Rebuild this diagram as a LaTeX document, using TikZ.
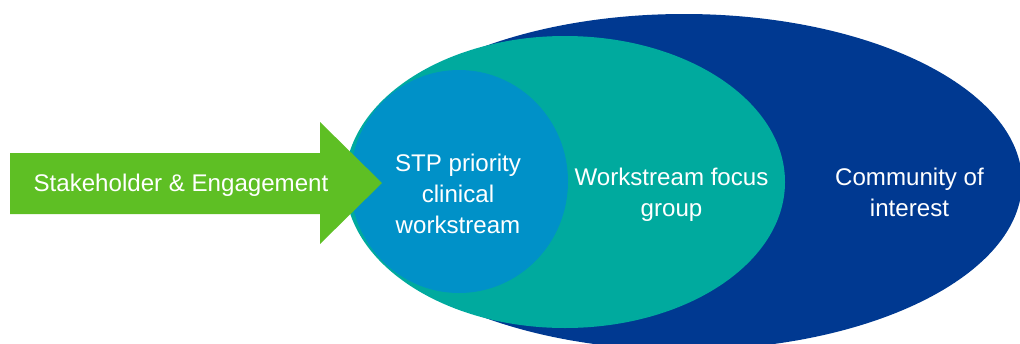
\documentclass[tikz,border=0pt]{standalone}
\usepackage{fontspec}
\setmainfont{Liberation Sans}
\definecolor{arrowgreen}{RGB}{94,191,36}
\definecolor{circblue}{RGB}{0,145,200}
\definecolor{tealc}{RGB}{0,170,158}
\definecolor{darkb}{RGB}{0,57,145}
\begin{document}
\begin{tikzpicture}[x=1pt,y=-1pt,
  lbl/.style={text=white,align=center,inner sep=0pt,font=\fontsize{24.1}{31}\selectfont}]
\useasboundingbox (0,0) rectangle (1020,343);
% community of interest
\fill[darkb] (684,182) ellipse [x radius=338, y radius=168];
% workstream focus group
\fill[tealc] (565,182) ellipse [x radius=220, y radius=146];
% STP circle
\fill[circblue] (459,181.5) ellipse [x radius=109, y radius=111.5];
% arrow
\fill[arrowgreen] (10,153) -- (320,153) -- (320,122) -- (382,183) -- (320,244) -- (320,214) -- (10,214) -- cycle;
\node[lbl] (stake) at (181,185.6) {Stakeholder \& Engagement};
\node[lbl] (stp) at (458,194.3) {STP priority\\clinical\\workstream};
\node[lbl] (focus) at (671.5,194.3) {Workstream focus\\group};
\node[lbl] (comm) at (909.5,192.3) {Community of\\interest};
\end{tikzpicture}
\end{document}
